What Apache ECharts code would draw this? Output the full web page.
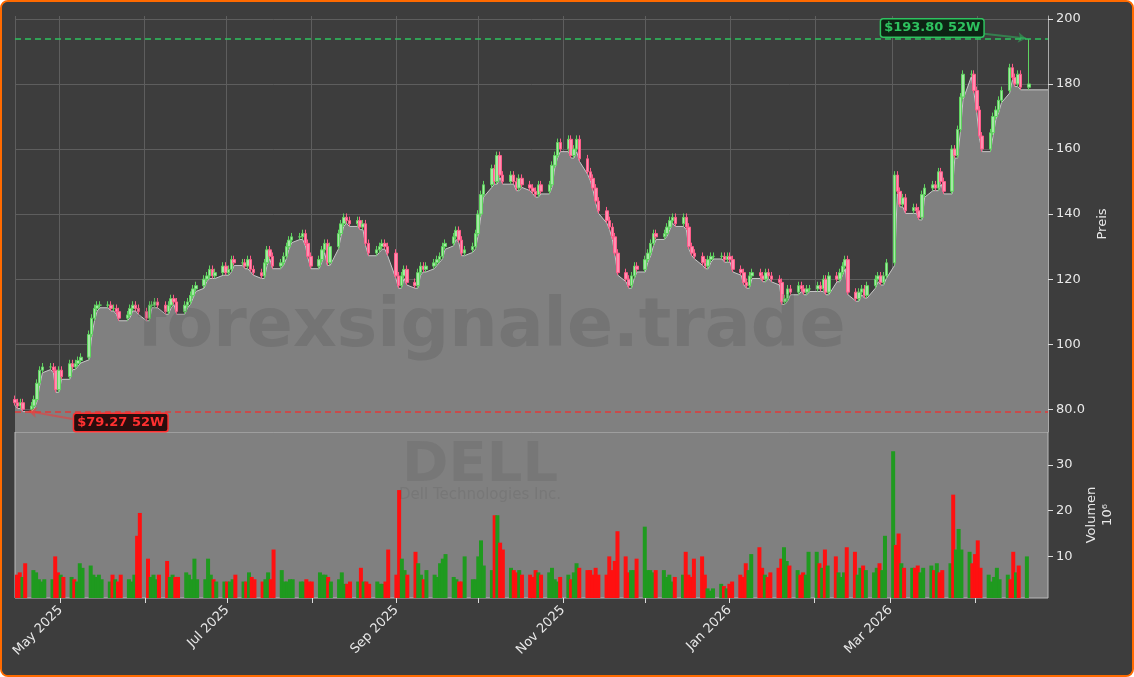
<!DOCTYPE html>
<html><head><meta charset="utf-8">
<script src="https://cdn.jsdelivr.net/npm/echarts@6/dist/echarts.min.js"></script>
<style>html,body{margin:0;padding:0;background:#fff}#c{width:1130px;height:673px;border:2px solid #ff6a00;border-radius:8px;background:#3d3d3d;overflow:hidden}</style>
</head><body><div id="c"></div>
<script>
// Weekly groups of daily closes (Mon..Fri), first week starts Tue 2025-04-15
const startDate = '2025-04-15';
const closeWeeks = [
 [82,81,82,80],
 [81,83,88,92,93],
 [93,92,86,92,90],
 [94,93,94,95,96],
 [103,108,111,112,112],
 [112,111,111,110,108],
 [109,111,112,111,110],
 [108,112,112,113,112],
 [110,112,114,113,110],
 [112,113,115,117,118],
 [120,121,123,121,122],
 [124,122,123,126,125],
 [125,124,126,123,122],
 [121,125,129,127,124],
 [125,127,130,132,133],
 [133,134,131,127,124],
 [126,129,131,125,130],
 [134,137,139,138,137],
 [138,136,137,131,128],
 [129,130,131,130,128],
 [121,118,121,123,119],
 [118,122,124,123,124],
 [125,126,127,130,131],
 [133,135,132,128,129],
 [130,134,140,146,149],
 [154,150,158,152,150],
 [152,150,148,151,149],
 [148,147,146,149,147],
 [149,155,158,162,160],
 [163,158,160,163,157],
 [153,151,148,144,141],
 [138,136,133,128,122],
 [120,118,121,124,123],
 [126,128,131,134,133],
 [134,136,138,139,137],
 [139,136,130,128,127],
 [125,124,126,127,127],
 [127,126,127,126,123],
 [122,119,118,121,122],
 [121,120,122,121,120],
 [119,113,114,117,116],
 [118,117,116,117,117],
 [118,117,120,116,121],
 [120,122,124,126,116],
 [114,116,117,115,118],
 [120,121,119,121,125],
 [152,147,143,145,141],
 [142,141,139,146,148],
 [149,148,153,150,147],
 [160,158,166,176,183],
 [183,178,172,164,160],
 [165,170,172,175,178],
 [185,182,180,183,179],
 [180]
];
const volWeeks = [
 [6,6.5,5.5,8.5],
 [7,6.5,5,4.5,5],
 [5,10,6.5,6,5.5],
 [5.5,5,4.5,8.5,7.5],
 [8,6,5.5,6,5],
 [4.5,6,5,4.5,6],
 [5,4.5,6,14.5,19.5],
 [9.5,5.5,6,5,6],
 [9,5.5,6,5.5,5.5],
 [6.5,6,5,9.5,5],
 [5,9.5,6,5,4.5],
 [4.5,4.5,4.5,5,6],
 [4.5,4.5,6.5,5.5,5],
 [4.5,5,6.5,5,11.5],
 [7,4.5,4.5,5,5],
 [4.5,4.5,5,4.5,4.5],
 [6.5,6,6,5.5,4.5],
 [5,6.5,4,4,4.5],
 [4.5,7.5,4.5,4.5,4],
 [4.5,4,4,4.5,11.5],
 [6,24.5,9.5,7,6],
 [11,8.5,6,5,7],
 [6,5.5,8.5,9.5,10.5],
 [5.5,5,4.5,4.5,10],
 [5,5,10,13.5,8],
 [7,19,19,13,11.5],
 [7.5,7,6.5,7,6],
 [6,5.5,7,6.5,6],
 [6.5,7.5,5,4.5,5.5],
 [6,5,6.5,8.5,7.5],
 [7,7,6,7.5,6],
 [6,10,7,9,15.5],
 [10,6.5,7,7,9.5],
 [16.5,7,7,6.5,7],
 [7,5.5,6,4.5,5.5],
 [6,11,6,5.5,9.5],
 [10,6,3,2.5,3],
 [4,3.5,3,4,4.5],
 [6,5.5,8.5,7,10.5],
 [12,7.5,6,5.5,6.5],
 [7.5,9.5,12,9,8],
 [7,6,6.5,6,11],
 [11,8.5,7.5,11.5,8],
 [10,6.5,5.5,6.5,12],
 [11,6,7.5,8,7],
 [6.5,7.5,8.5,7,14.5],
 [33,12.5,15,8.5,7.5],
 [7.5,7.5,8,6.5,7.5],
 [8,7,8.5,6.5,7],
 [8.5,23.5,11.5,16,11.5],
 [11,8.5,10.5,13.5,7.5],
 [6,4.5,5.5,7.5,5],
 [6,5,11,6.5,8],
 [10]
];
const highOverrides = {'2026-04-20':193.8};
const low52 = 79.27, high52 = 193.80;
const areaEndDate = '2026-04-27';

function ds(d){return d.toISOString().slice(0,10);}
const closes = closeWeeks.flat();
const vols = volWeeks.flat();
const dates = [];
let d = new Date(startDate+'T00:00:00Z');
while (dates.length < closes.length) {
  const wd = d.getUTCDay();
  if (wd>0 && wd<6) dates.push(ds(d));
  d = new Date(d.getTime()+86400000);
}
const candles = [], area = [], volData = [];
for (let i=0;i<closes.length;i++){
  const c = closes[i], o = i===0 ? 83 : closes[i-1];
  let hi = Math.max(o,c)+1.2, lo = Math.min(o,c)-0.8;
  if (highOverrides[dates[i]]) hi = highOverrides[dates[i]];
  if (i===3) lo = low52;
  candles.push([dates[i],o,c,lo,hi]);
  area.push([dates[i],lo]);
  volData.push({value:[dates[i],vols[i]],itemStyle:{color: c>=o ? '#1f9a1f' : '#ff1010'}});
}
area.push([areaEndDate, area[area.length-1][1]]);

const chart = echarts.init(document.getElementById('c'));
const txt = '#e8e8e8';
const F = 'DejaVu Sans';
const xMin = '2025-04-15', xMax = '2026-04-27';
const mnames = ['Jan','Feb','Mar','Apr','May','Jun','Jul','Aug','Sep','Oct','Nov','Dec'];
chart.setOption({
  backgroundColor:'#3d3d3d',
  animation:false,
  textStyle:{fontFamily:F},
  grid:[{left:13,right:84,top:14,height:416,show:false},
        {left:13,right:84,top:430,height:166,show:true,backgroundColor:'#808080',borderColor:'#bbbbbb',borderWidth:1}],
  xAxis:[
    {type:'time',gridIndex:0,min:xMin,max:xMax,minInterval:28*86400000,maxInterval:31*86400000,
     axisLabel:{show:false},axisTick:{show:false},axisLine:{show:false},
     splitLine:{show:true,lineStyle:{color:'#5e5e5e',width:1}}},
    {type:'time',gridIndex:1,min:xMin,max:xMax,minInterval:28*86400000,maxInterval:31*86400000,
     axisLine:{show:false},axisTick:{show:true,lineStyle:{color:'#dddddd'},length:5},
     splitLine:{show:false},
     axisLabel:{color:txt,fontSize:13,fontFamily:F,rotate:45,margin:10,hideOverlap:false,
       formatter:function(v){const dt=new Date(v);const m=dt.getUTCMonth();return (m%2===0)? mnames[m]+' '+dt.getUTCFullYear():'';}}}
  ],
  yAxis:[
    {type:'value',gridIndex:0,position:'right',min:73,max:200.9,
     name:'Preis',nameLocation:'middle',nameGap:42,nameRotate:90,nameTextStyle:{color:txt,fontSize:13,fontFamily:F},
     axisLine:{show:true,lineStyle:{color:'#aaaaaa'}},
     axisTick:{show:true,lineStyle:{color:'#dddddd'},customValues:[80,100,120,140,160,180,200]},
     axisLabel:{color:txt,fontSize:13,fontFamily:F,formatter:v=>v===80?'80.0':String(v),
       customValues:[80,100,120,140,160,180,200]},
     splitLine:{show:true,lineStyle:{color:'#5e5e5e'}}},
    {type:'value',gridIndex:1,position:'right',min:0.9,max:37.2,
     name:'Volumen\n10⁶',nameLocation:'middle',nameGap:34,nameRotate:90,nameTextStyle:{color:txt,fontSize:13,fontFamily:F,lineHeight:16},
     axisLine:{show:false},axisTick:{show:true,lineStyle:{color:'#dddddd'},customValues:[10,20,30]},
     axisLabel:{color:txt,fontSize:13,fontFamily:F,customValues:[10,20,30]},
     splitLine:{show:false}}
  ],
  series:[
    {type:'line',xAxisIndex:0,yAxisIndex:0,data:area,symbol:'none',z:1,
     lineStyle:{color:'#c8c8c8',width:1},areaStyle:{color:'#808080',opacity:1,origin:'start'}},
    {type:'candlestick',xAxisIndex:0,yAxisIndex:0,data:candles,barWidth:3,z:3,
     itemStyle:{color:'#a5e8a5',color0:'#ff8fb0',borderColor:'#5fd35f',borderColor0:'#ff5c8a',borderWidth:1},
     markLine:{symbol:'none',silent:true,label:{show:false},
       data:[{yAxis:high52,lineStyle:{color:'#2ec25f',type:[6,4],width:1.5}},
             {yAxis:low52,lineStyle:{color:'#e03a3a',type:[6,4],width:1.5}}]},
     markPoint:{symbol:'rect',symbolSize:1,silent:true,
       data:[
        {coord:['2026-04-20',high52],itemStyle:{color:'rgba(0,0,0,0)'},
         label:{show:true,formatter:'$193.80 52W',position:'left',distance:45,offset:[0,-11],color:'#2ec25f',fontWeight:'bold',fontSize:13,
           fontFamily:F,backgroundColor:'#0d2414',borderColor:'#2ec25f',borderWidth:1.5,borderRadius:2,padding:[2,3]}},
        {coord:['2025-04-20',low52],itemStyle:{color:'rgba(0,0,0,0)'},
         label:{show:true,formatter:'$79.27 52W',position:'right',distance:45,offset:[0,11],color:'#ff3030',fontWeight:'bold',fontSize:13,
           fontFamily:F,backgroundColor:'#2a0d0d',borderColor:'#ff3030',borderWidth:1.5,borderRadius:2,padding:[2,3]}}
       ]}},
    {type:'bar',xAxisIndex:1,yAxisIndex:1,data:volData,barWidth:4,z:2},
    {type:'lines',coordinateSystem:'cartesian2d',xAxisIndex:0,yAxisIndex:0,z:5,silent:true,
     symbol:['none','arrow'],symbolSize:8,
     data:[{coords:[['2026-03-25',196.4],['2026-04-19',194.0]],lineStyle:{color:'#2ec25f',width:2}},
           {coords:[['2025-05-06',77.0],['2025-04-20',79.4]],lineStyle:{color:'#ff3030',width:2}}]}
  ],
  graphic:[
    {type:'text',left:135,top:292,z:10,silent:true,style:{text:'forexsignale.trade',fontSize:68,fontWeight:'bold',fill:'rgba(60,60,60,0.18)',fontFamily:F}},
    {type:'text',left:400,top:436,z:10,silent:true,style:{text:'DELL',fontSize:56,fontWeight:'bold',fill:'rgba(60,60,60,0.13)',fontFamily:F}},
    {type:'text',left:397,top:486,z:10,silent:true,style:{text:'Dell Technologies Inc.',fontSize:15,fill:'rgba(60,60,60,0.13)',fontFamily:F}}
  ]
});
</script></body></html>
